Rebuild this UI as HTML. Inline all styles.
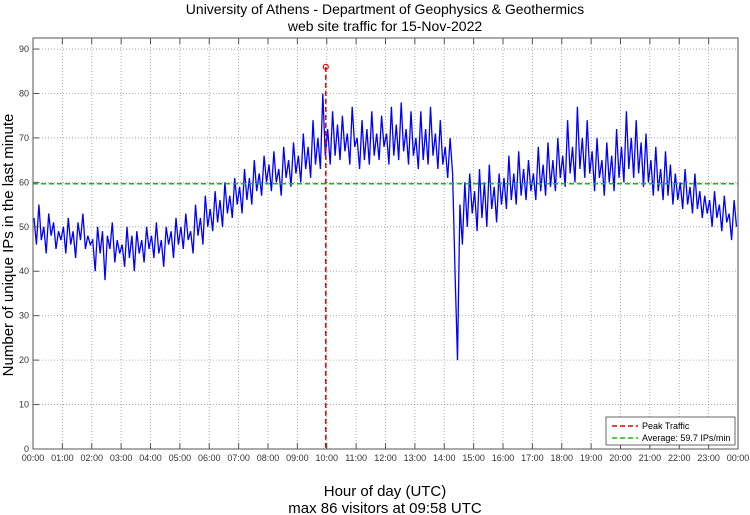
<!DOCTYPE html>
<html><head><meta charset="utf-8"><style>
body{margin:0;background:#fff;}
svg{display:block;font-family:"Liberation Sans",sans-serif;}
</style></head><body>
<svg id="chart" width="750" height="515" viewBox="0 0 750 515" xmlns="http://www.w3.org/2000/svg">
<text x="385" y="14" font-size="14" text-anchor="middle">University of Athens - Department of Geophysics &amp; Geothermics</text>
<text x="385" y="31" font-size="14" text-anchor="middle">web site traffic for 15-Nov-2022</text>
<g id="grid"></g>
<g id="series"></g>
<rect x="33" y="38" width="705" height="411" fill="none" stroke="#555" stroke-width="1"/>
<g id="axes"></g>
<text transform="translate(13,245) rotate(-90)" font-size="15" text-anchor="middle">Number of unique IPs in the last minute</text>
<text x="385" y="496" font-size="15" text-anchor="middle">Hour of day (UTC)</text>
<text x="385" y="513" font-size="15" text-anchor="middle">max 86 visitors at 09:58 UTC</text>
<g>
<rect x="606" y="417" width="129" height="28" fill="#fff" stroke="#444" stroke-width="0.8"/>
<line x1="612" y1="426" x2="638" y2="426" stroke="#e00" stroke-width="1.5" stroke-dasharray="5,3"/>
<text x="642" y="429" font-size="9">Peak Traffic</text>
<line x1="612" y1="438" x2="638" y2="438" stroke="#1b1" stroke-width="1.5" stroke-dasharray="5,3"/>
<text x="642" y="441" font-size="9">Average: 59.7 IPs/min</text>
</g>
</svg>
<script>
const yTicks=[0,10,20,30,40,50,60,70,80,90];
const xTickLabels=["00:00","01:00","02:00","03:00","04:00","05:00","06:00","07:00","08:00","09:00","10:00","11:00","12:00","13:00","14:00","15:00","16:00","17:00","18:00","19:00","20:00","21:00","22:00","23:00","00:00"];
const averageValue=59.7;
const peakValue=86;
const peakMinute=598;
const sampleStepMinutes=5;
const visitors=[
52,46,55,47,50,44,53,48,51,45,49,47,
50,44,52,46,49,43,51,47,53,45,48,46,
47,40,50,44,49,38,48,45,51,42,47,44,
46,41,50,43,48,40,49,44,47,42,50,45,
48,43,51,44,47,41,50,46,49,43,52,46,
50,45,53,47,49,44,55,48,52,46,57,50,
54,49,58,51,56,50,60,53,57,52,61,55,
59,53,63,56,61,55,65,58,62,57,66,60,
64,58,67,60,63,57,68,61,65,59,69,62,
66,60,71,63,68,61,74,64,70,63,80,66,
72,64,76,66,73,65,75,67,71,64,77,68,
70,63,74,65,72,64,76,66,71,65,75,68,
71,64,77,66,73,65,78,67,72,64,76,66,
70,63,76,65,72,64,77,66,71,63,74,64,
68,61,70,62,40,20,55,46,60,50,62,53,
58,49,63,52,60,50,64,54,59,51,62,55,
61,54,66,56,62,55,67,57,63,56,65,58,
62,56,68,58,64,57,69,59,65,58,70,61,
66,59,74,62,68,60,77,63,70,61,74,62,
67,58,70,61,65,57,69,60,66,58,72,61,
68,60,76,63,70,61,74,62,69,59,71,60,
65,57,68,58,63,56,67,57,64,55,62,56,
60,54,63,55,59,53,62,54,58,52,57,53,
56,50,58,52,55,49,57,51,53,47,56,50
];
const NS="http://www.w3.org/2000/svg";
const X0=33,X1=738,Y0=449,PXU=4.444;
const xScale=m=>X0+(m/1440)*(X1-X0);
const yScale=v=>Y0-v*PXU;
function mk(tag,attrs,parent){const e=document.createElementNS(NS,tag);for(const k in attrs)e.setAttribute(k,attrs[k]);parent.appendChild(e);return e;}
const grid=document.getElementById('grid'),axes=document.getElementById('axes'),series=document.getElementById('series');
yTicks.forEach(v=>{
  const y=yScale(v);
  if(v>0){const g=mk('line',{x1:X0,x2:X1,y1:y,y2:y,stroke:'#999','stroke-width':0.8,'stroke-dasharray':'1,2'},grid);
  
  }
  mk('line',{x1:X0,x2:X0+6,y1:y,y2:y,stroke:'#555'},axes);
  const t=mk('text',{x:X0-4,y:y+3,'font-size':9,'text-anchor':'end',fill:'#333'},axes);
  t.textContent=v;
  
  
});
xTickLabels.forEach((lab,i)=>{
  const x=xScale(i*60);
  if(i>0&&i<24){const g=mk('line',{x1:x,x2:x,y1:38,y2:Y0,stroke:'#999','stroke-width':0.8,'stroke-dasharray':'1,2'},grid);
  
  
  mk('line',{x1:x,x2:x,y1:Y0,y2:Y0-6,stroke:'#555'},axes);
  mk('line',{x1:x,x2:x,y1:38,y2:44,stroke:'#555'},axes);}
  const t=mk('text',{x:x,y:461,'font-size':9,'text-anchor':'middle',fill:'#333'},axes);
  t.textContent=lab;
  
  
});
const pts=visitors.map((v,i)=>xScale(i*sampleStepMinutes+2).toFixed(1)+','+yScale(v).toFixed(1)).join(' ');
const line=mk('polyline',{points:pts,fill:'none',stroke:'#00f','stroke-width':1.3},series);


const avg=mk('line',{x1:X0,x2:X1,y1:yScale(averageValue),y2:yScale(averageValue),stroke:'#1b1','stroke-width':1.5,'stroke-dasharray':'5,3'},series);


const pk=mk('line',{x1:xScale(peakMinute),x2:xScale(peakMinute),y1:yScale(peakValue),y2:Y0,stroke:'#e00','stroke-width':1.5,'stroke-dasharray':'5,3'},series);


const pm=mk('circle',{cx:xScale(peakMinute),cy:yScale(peakValue),r:2.5,fill:'none',stroke:'#e00','stroke-width':1.2},series);


</script>
</body></html>
